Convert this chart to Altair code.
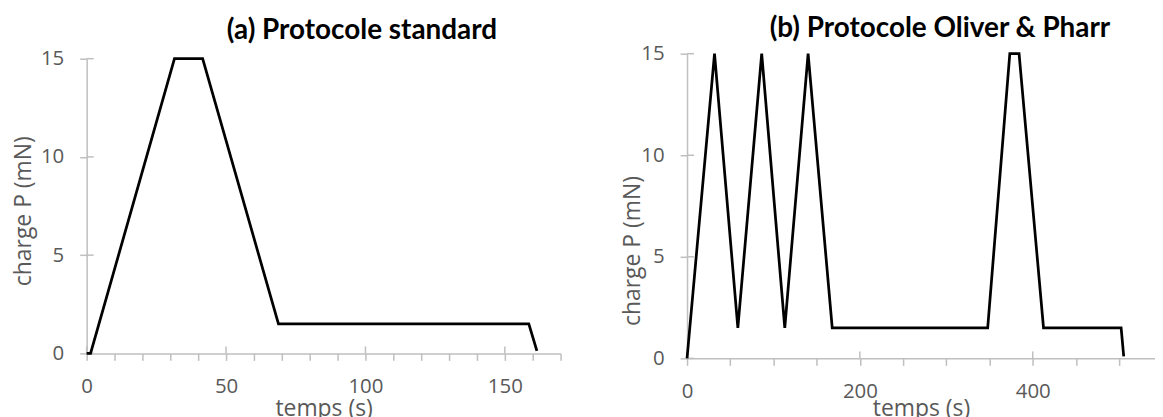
import altair as alt
import pandas as pd

# ---- data ----
t_a = [0, 1.4, 31.5, 41.6, 68.8, 158.6, 161.5]
p_a = [0, 0, 15, 15, 1.5, 1.5, 0.13]

t_b = [0, 31.8, 58.8, 86.4, 113.1, 140.1, 168.0, 347.9, 373.5, 384.2, 412.5, 502.3, 505.3]
p_b = [0, 15, 1.5, 15, 1.5, 15, 1.5, 1.5, 15, 15, 1.5, 1.5, 0.1]

x_ticks_a = list(range(0, 171, 10))
x_major_a = [0, 50, 100, 150]
x_ticks_b = list(range(0, 501, 50))
x_major_b = [0, 200, 400]
y_ticks = [0, 5, 10, 15]

title_a = "(a) Protocole standard"
title_b = "(b) Protocole Oliver & Pharr"
x_title = "temps (s)"
y_title = "charge P (mN)"

FONT = "Open Sans"
TFONT = "Lato"
AXIS_GRAY = "#BFBFBF"
TEXT_GRAY = "#595959"


def panel(t, p, xdom, xticks, xmajor, w, h, title, t_offset, t_dx, t_dy,
          ytitle_x, ytitle_y, xtitle_y):
    df = pd.DataFrame({"t": t, "p": p})
    xs = alt.Scale(domain=xdom, nice=False, zero=False)
    ys = alt.Scale(domain=[0, 15], nice=False)
    x_axis = alt.Axis(
        values=xticks,
        labelExpr=f"indexof({xmajor}, datum.value) >= 0 ? datum.label : ''",
        title=x_title,
        titleBaseline="alphabetic",
        titleY=xtitle_y,
    )
    y_axis = alt.Axis(
        values=y_ticks,
        title=y_title,
        titleBaseline="middle",
        titleAlign="center",
        titleX=ytitle_x,
        titleY=ytitle_y,
    )

    line = alt.Chart(df).mark_line(
        color="black", strokeWidth=2.75, strokeJoin="miter"
    ).encode(
        x=alt.X("t:Q", scale=xs, axis=x_axis),
        y=alt.Y("p:Q", scale=ys, axis=y_axis),
        order=alt.Order("t:Q"),
    )
    # inner halves of the major ticks (Excel "cross" tick marks)
    xin = alt.Chart(pd.DataFrame({"t": xmajor})).mark_rule(
        color=AXIS_GRAY, strokeWidth=1.5
    ).encode(
        x=alt.X("t:Q", scale=xs, axis=x_axis),
        y=alt.value(h - 7),
        y2=alt.value(h),
    )
    yin = alt.Chart(pd.DataFrame({"p": y_ticks})).mark_rule(
        color=AXIS_GRAY, strokeWidth=1.5
    ).encode(
        y=alt.Y("p:Q", scale=ys, axis=y_axis),
        x=alt.value(0),
        x2=alt.value(7),
    )
    return alt.layer(xin, yin, line).properties(
        width=w,
        height=h,
        title=alt.TitleParams(
            title,
            font=TFONT,
            fontSize=28,
            fontWeight="bold",
            color="black",
            anchor="middle",
            baseline="alphabetic",
            offset=t_offset,
            dx=t_dx,
            dy=t_dy,
        ),
    )


left = panel(t_a, p_a, [0, 170], x_ticks_a, x_major_a, 476, 296,
             title_a, 11.3, 38.5, 30, -63.7, 152.7, 62.7)
right = panel(t_b, p_b, [0, 541.5], x_ticks_b, x_major_b, 470, 306,
              title_b, 7.3, 19, 29, -54.7, 197.7, 57.7)

chart = alt.hconcat(
    left, right, spacing=127, bounds="flush", center=True
).properties(
    padding={"top": 6, "left": 4, "right": 0, "bottom": -4}
).configure_view(
    stroke=None
).configure_axis(
    grid=False,
    domainColor=AXIS_GRAY,
    domainWidth=1.5,
    tickColor=AXIS_GRAY,
    tickWidth=1.5,
    tickSize=7,
    labelFont=FONT,
    labelFontSize=20.5,
    labelColor=TEXT_GRAY,
    labelPadding=16,
    labelFlush=False,
    labelOverlap=False,
    titleFont=FONT,
    titleFontSize=23,
    titleFontWeight="normal",
    titleColor=TEXT_GRAY,
)

chart.save("out.html", embed_options={"renderer": "svg", "actions": False})
